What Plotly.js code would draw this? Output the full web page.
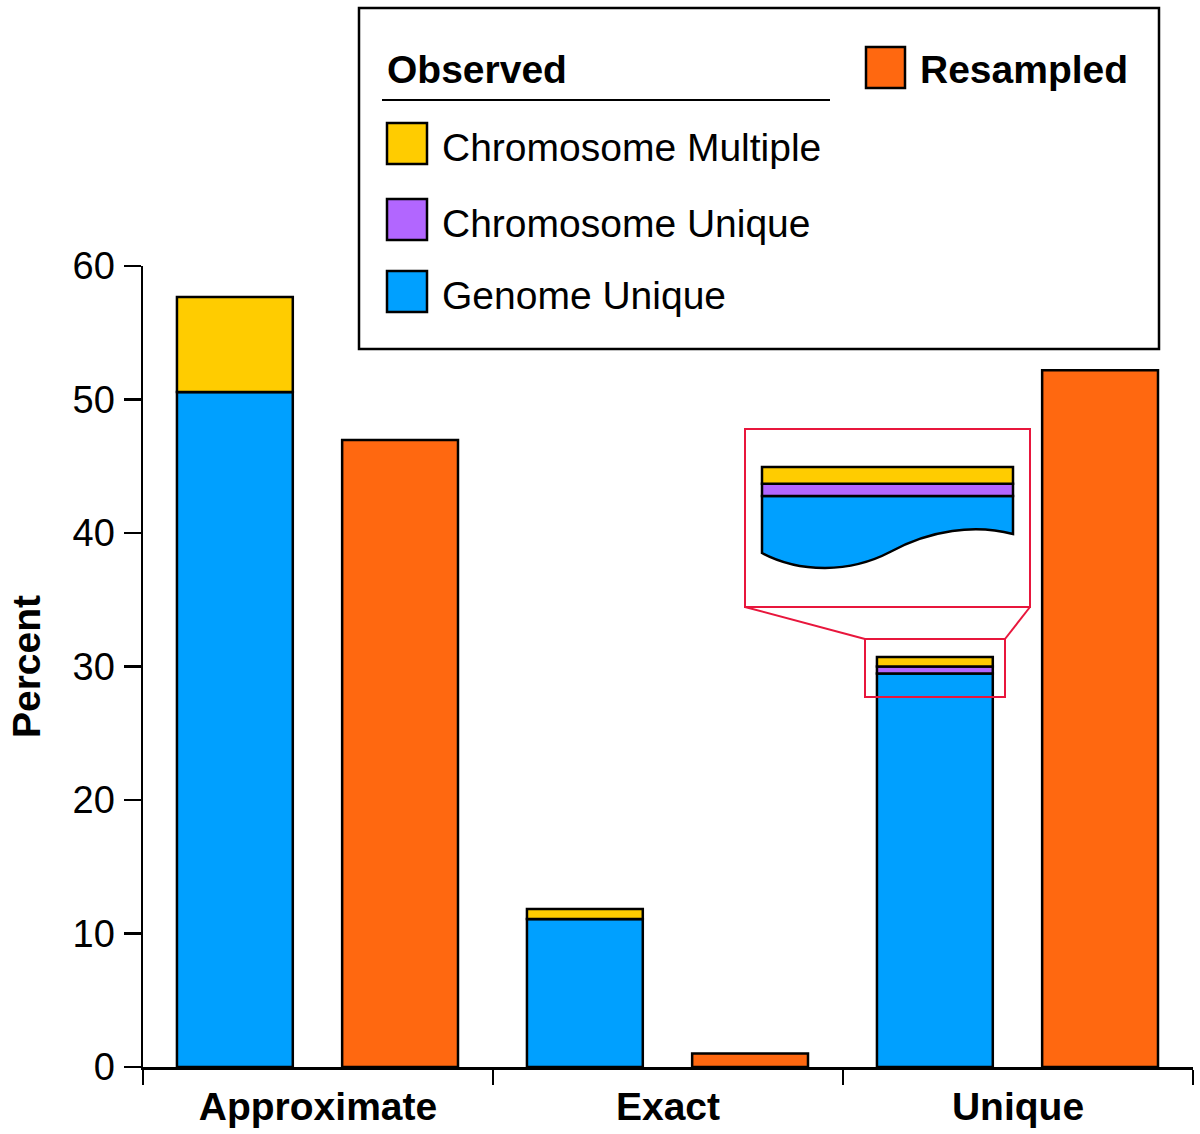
<!DOCTYPE html>
<html>
<head>
<meta charset="utf-8">
<script src="https://cdn.plot.ly/plotly-3.0.1.min.js"></script>
<style>
  html, body { margin: 0; padding: 0; background: #fff; }
  #chart { width: 1200px; height: 1134px; }
</style>
</head>
<body>
<div id="chart"></div>
<script>
// values (percent)
const categories = ['Approximate', 'Exact', 'Unique'];
const genomeUnique = [50.56, 11.09, 29.48];
const chromUnique = [0, 0, 0.52];
const chromMultiple = [7.12, 0.74, 0.72];
const resampled = [46.97, 1.02, 52.2];

const seriesNames = ['Chromosome Multiple', 'Chromosome Unique', 'Genome Unique'];
const colors = {
  multiple: 'rgb(255,204,0)',
  unique: 'rgb(178,102,255)',
  genome: 'rgb(0,160,255)',
  resampled: 'rgb(255,104,16)',
  red: 'rgb(232,22,60)'
};

const FONT = 'Liberation Sans, Arial, Helvetica, sans-serif';
const outline = {color: '#000', width: 2.5};

// plot area is 143..1193 px wide, 266..1067 px tall
const PX = px => (px - 143) / 1050;
const PP = py => (1067 - py) / 801;
const PY = py => (1067 - py) / (801 / 60);

const chromBase = genomeUnique.map(g => g);
const multBase = genomeUnique.map((g, i) => g + chromUnique[i]);

function bar(name, y, base, color, offset) {
  return {
    type: 'bar',
    name: name,
    x: categories,
    y: y,
    base: base,
    width: 0.331,
    offset: offset,
    marker: {color: color, line: outline},
    hoverinfo: 'x+y+name'
  };
}

const traces = [
  bar('Genome Unique', genomeUnique, 0, colors.genome, -0.403),
  bar('Chromosome Unique', chromUnique, chromBase, colors.unique, -0.403),
  bar('Chromosome Multiple', chromMultiple, multBase, colors.multiple, -0.403),
  bar('Resampled', resampled, 0, colors.resampled, 0.069)
];

// hand-made legend box
const shapes = [];
const annotations = [];
shapes.push({type: 'rect', xref: 'paper', yref: 'paper',
  x0: PX(359), x1: PX(1159), y0: PP(349), y1: PP(8),
  line: {color: '#000', width: 2.5}, fillcolor: 'rgba(0,0,0,0)'});
shapes.push({type: 'line', xref: 'paper', yref: 'paper',
  x0: PX(382), x1: PX(830), y0: PP(100), y1: PP(100),
  line: {color: '#000', width: 2}});
annotations.push({xref: 'paper', yref: 'paper', x: PX(385), y: PP(69),
  xanchor: 'left', yanchor: 'middle', showarrow: false, text: 'Observed',
  font: {family: FONT, size: 39, color: '#000', weight: 'bold'}});

const legendRows = [
  {name: seriesNames[0], color: colors.multiple, top: 123},
  {name: seriesNames[1], color: colors.unique, top: 199},
  {name: seriesNames[2], color: colors.genome, top: 271}
];
legendRows.forEach(r => {
  shapes.push({type: 'rect', xref: 'paper', yref: 'paper',
    x0: PX(387), x1: PX(427), y0: PP(r.top + 41), y1: PP(r.top),
    fillcolor: r.color, line: {color: '#000', width: 2.5}});
  annotations.push({xref: 'paper', yref: 'paper', x: PX(440), y: PP(r.top + 24),
    xanchor: 'left', yanchor: 'middle', showarrow: false, text: r.name,
    font: {family: FONT, size: 39, color: '#000'}});
});
shapes.push({type: 'rect', xref: 'paper', yref: 'paper',
  x0: PX(866), x1: PX(905), y0: PP(88), y1: PP(47),
  fillcolor: colors.resampled, line: {color: '#000', width: 2.5}});
annotations.push({xref: 'paper', yref: 'paper', x: PX(918), y: PP(69),
  xanchor: 'left', yanchor: 'middle', showarrow: false, text: 'Resampled',
  font: {family: FONT, size: 39, color: '#000', weight: 'bold'}});

// zoom callout around the top of the Unique observed stack
const redLine = {color: colors.red, width: 2};
shapes.push({type: 'rect', xref: 'paper', yref: 'y',
  x0: PX(865), x1: PX(1005), y0: PY(697), y1: PY(639), line: redLine});
shapes.push({type: 'rect', xref: 'paper', yref: 'y',
  x0: PX(745), x1: PX(1030), y0: PY(607), y1: PY(429), line: redLine,
  fillcolor: '#fff', layer: 'above'});
shapes.push({type: 'line', xref: 'paper', yref: 'y',
  x0: PX(745), x1: PX(865), y0: PY(607), y1: PY(639), line: redLine});
shapes.push({type: 'line', xref: 'paper', yref: 'y',
  x0: PX(1030), x1: PX(1005), y0: PY(607), y1: PY(639), line: redLine});

// magnified segments inside the inset
const mag = 1.75;
const insetTop = PY(467);
const yMultBottom = insetTop - chromMultiple[2] * mag;
const yUniqBottom = yMultBottom - chromUnique[2] * mag;
const ix0 = PX(762), ix1 = PX(1013);
const wave = 'M' + ix0 + ',' + yUniqBottom + ' L' + ix1 + ',' + yUniqBottom +
  ' L' + ix1 + ',' + PY(534) +
  ' C' + PX(975) + ',' + PY(524) + ' ' + PX(930) + ',' + PY(530) + ' ' + PX(890) + ',' + PY(552) +
  ' C' + PX(850) + ',' + PY(573) + ' ' + PX(800) + ',' + PY(573) + ' ' + ix0 + ',' + PY(553) + ' Z';
shapes.push({type: 'path', xref: 'paper', yref: 'y', path: wave,
  fillcolor: colors.genome, line: {color: '#000', width: 2.5}, layer: 'above'});
shapes.push({type: 'rect', xref: 'paper', yref: 'y', x0: ix0, x1: ix1,
  y0: yUniqBottom, y1: yMultBottom, fillcolor: colors.unique,
  line: {color: '#000', width: 2.5}, layer: 'above'});
shapes.push({type: 'rect', xref: 'paper', yref: 'y', x0: ix0, x1: ix1,
  y0: yMultBottom, y1: insetTop, fillcolor: colors.multiple,
  line: {color: '#000', width: 2.5}, layer: 'above'});

const layout = {
  width: 1200,
  height: 1134,
  margin: {l: 143, r: 7, t: 266, b: 67},
  paper_bgcolor: '#fff',
  plot_bgcolor: '#fff',
  barmode: 'overlay',
  showlegend: false,
  font: {family: FONT, color: '#000'},
  xaxis: {
    type: 'category',
    range: [-0.5, 2.5],
    tickson: 'boundaries',
    ticks: 'outside',
    ticklen: 15,
    tickwidth: 2.5,
    tickcolor: '#000',
    ticklabelstandoff: 4,
    showline: true,
    linewidth: 2.5,
    linecolor: '#000',
    showgrid: false,
    zeroline: false,
    automargin: false,
    tickfont: {family: FONT, size: 39, color: '#000', weight: 'bold'}
  },
  yaxis: {
    range: [0, 60],
    tickvals: [0, 10, 20, 30, 40, 50, 60],
    ticks: 'outside',
    ticklen: 17,
    tickwidth: 2.5,
    tickcolor: '#000',
    ticklabelstandoff: 1,
    showline: true,
    linewidth: 2.5,
    linecolor: '#000',
    showgrid: false,
    zeroline: false,
    automargin: false,
    tickfont: {family: FONT, size: 38, color: '#000'},
    title: {text: 'Percent', standoff: 20,
      font: {family: FONT, size: 39, color: '#000', weight: 'bold'}}
  },
  shapes: shapes,
  annotations: annotations
};

Plotly.newPlot('chart', traces, layout, {displayModeBar: false, staticPlot: true});
</script>
</body>
</html>
